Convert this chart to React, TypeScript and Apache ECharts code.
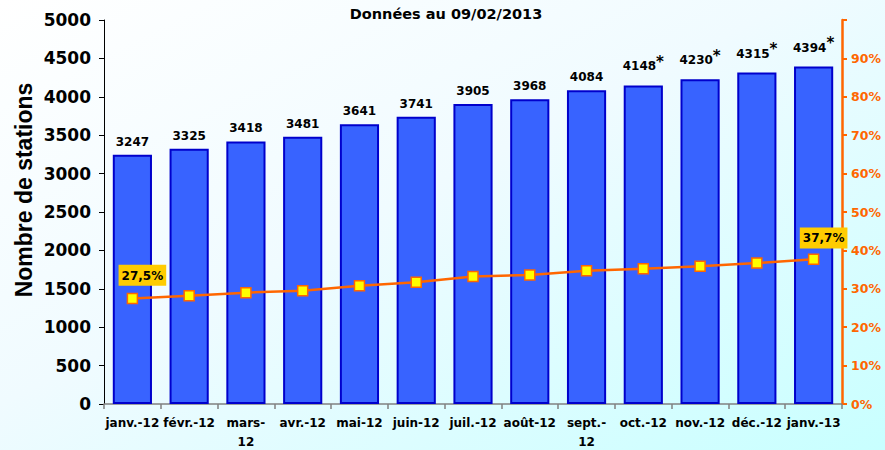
import React, { useEffect, useRef } from "react";
import * as echarts from "echarts";

const categories = [
  "janv.-12", "févr.-12", "mars-12", "avr.-12", "mai-12", "juin-12",
  "juil.-12", "août-12", "sept.-12", "oct.-12", "nov.-12", "déc.-12", "janv.-13",
];
const stations = [3247, 3325, 3418, 3481, 3641, 3741, 3905, 3968, 4084, 4148, 4230, 4315, 4394];
const estimated = [false, false, false, false, false, false, false, false, false, true, true, true, true];
const shares = [27.5, 28.2, 29.0, 29.5, 30.8, 31.7, 33.2, 33.6, 34.7, 35.2, 35.9, 36.7, 37.7];
const labelledShares = [0, 12];
const titleText = "Données au 09/02/2013";
const yAxisTitle = "Nombre de stations";

const FONT = "'DejaVu Sans', Verdana, sans-serif";
const ARIAL = "Arial, 'Liberation Sans', sans-serif";

export default function App() {
  const ref = useRef<HTMLDivElement>(null);
  useEffect(() => {
    document.body.style.margin = "0";
    const chart = echarts.init(ref.current!, null, { renderer: "svg" });
    chart.setOption({
      animation: false,
      backgroundColor: new echarts.graphic.LinearGradient(0, 0, 1, 1, [
        { offset: 0, color: "#ffffff" },
        { offset: 0.45, color: "#f0fbff" },
        { offset: 1, color: "#c8ffff" },
      ]),
      textStyle: { fontFamily: FONT },
      title: {
        text: titleText,
        left: 441,
        textAlign: "center",
        top: 1,
        textStyle: { fontSize: 14.5, fontWeight: "bold", color: "#000", fontFamily: FONT },
      },
      graphic: [
        {
          type: "text",
          x: 24,
          y: 190,
          rotation: Math.PI / 2,
          style: {
            text: yAxisTitle,
            fontSize: 23,
            fontWeight: "bold",
            fontFamily: ARIAL,
            fill: "#000",
            align: "center",
            verticalAlign: "middle",
          },
        },
      ],
      grid: { left: 104, right: 43, top: 20, bottom: 46, containLabel: false, outerBoundsMode: "none" },
      xAxis: {
        type: "category",
        data: categories,
        axisLine: { lineStyle: { color: "#808080", width: 1.5 } },
        axisTick: { show: true, length: 5, lineStyle: { color: "#808080", width: 1.5 } },
        axisLabel: {
          interval: 0,
          margin: 9,
          fontSize: 12,
          fontWeight: "bold",
          color: "#000",
          fontFamily: FONT,
          lineHeight: 19,
          formatter: (v: string) => v.replace(/^(mars|sept\.)-/, "$1-\n"),
        },
      },
      yAxis: [
        {
          type: "value",
          min: 0,
          max: 5000,
          interval: 500,
          splitLine: { show: false },
          axisLine: { show: true, lineStyle: { color: "#000", width: 1 } },
          axisTick: { show: true, length: 5, lineStyle: { color: "#000" } },
          axisLabel: {
            fontSize: 17,
            fontWeight: "bold",
            color: "#000",
            margin: 13,
            fontFamily: FONT,
            formatter: (v: number) => String(v),
          },
        },
        {
          type: "value",
          min: 0,
          max: 100,
          interval: 10,
          position: "right",
          splitLine: { show: false },
          axisLine: { show: true, lineStyle: { color: "#FF6600", width: 2.5 } },
          axisTick: { show: true, length: 5, lineStyle: { color: "#FF6600", width: 2 } },
          axisLabel: {
            fontSize: 12.5,
            fontWeight: "bold",
            color: "#FF6600",
            margin: 9,
            fontFamily: FONT,
            formatter: (v: number) => (v >= 100 ? "" : v + "%"),
          },
        },
      ],
      series: [
        {
          type: "bar",
          yAxisIndex: 0,
          barCategoryGap: "31%",
          data: stations.map((v, i) => ({
            value: v,
            label: {
              formatter: estimated[i] ? "{v|" + v + "}{s|*}" : "{v|" + v + "}",
            },
          })),
          itemStyle: { color: "#3863FF", borderColor: "#0000CC", borderWidth: 2 },
          label: {
            show: true,
            position: "top",
            distance: 7,
            color: "#000",
            fontFamily: FONT,
            rich: {
              v: { fontSize: 12, fontWeight: "bold", color: "#000", fontFamily: FONT },
              s: { fontSize: 15, fontWeight: "bold", color: "#000", fontFamily: FONT, padding: [0, 0, 9, 0] },
            },
          },
        },
        {
          type: "line",
          yAxisIndex: 1,
          symbol: "rect",
          symbolSize: 10,
          lineStyle: { color: "#FF6600", width: 2.5 },
          itemStyle: { color: "#FFFF00", borderColor: "#FF6600", borderWidth: 1.5 },
          data: shares.map((v, i) => ({
            value: v,
            label: labelledShares.includes(i)
              ? {
                  show: true,
                  position: "top",
                  distance: i === 0 ? 7 : 5,
                  offset: [10, 0],
                  formatter: () => v.toFixed(1).replace(".", ",") + "%",
                  backgroundColor: "#FFCC00",
                  padding: [5, 3, 4, 3],
                  fontSize: 12,
                  fontWeight: "bold",
                  color: "#000",
                  fontFamily: FONT,
                }
              : { show: false },
          })),
          z: 5,
        },
      ],
    });
    return () => chart.dispose();
  }, []);
  return <div ref={ref} style={{ width: 885, height: 450 }} />;
}
